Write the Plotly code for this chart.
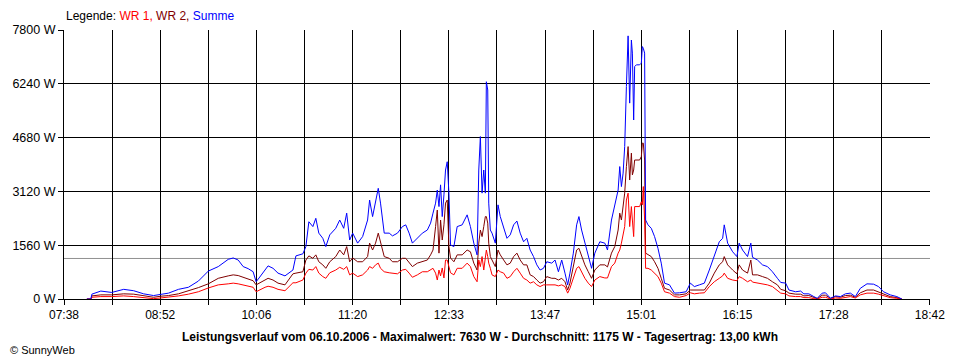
import plotly.graph_objects as go
import pandas as pd

# ---- data ----
times = [
    "07:55:33", "07:58:37", "07:59:22", "08:06:14", "08:14:38", "08:23:47", "08:31:26", "08:39:04", "08:46:41", "08:52:02",
    "08:58:08", "09:05:46", "09:13:24", "09:21:02", "09:28:40", "09:36:18", "09:43:56", "09:47:45", "09:51:34", "09:55:23",
    "09:59:12", "10:03:01", "10:05:18", "10:07:35", "10:12:10", "10:14:28", "10:18:17", "10:22:05", "10:27:26", "10:33:32",
    "10:35:50", "10:41:10", "10:43:28", "10:45:45", "10:48:49", "10:51:05", "10:53:23", "10:56:26", "10:58:44", "11:01:47",
    "11:06:22", "11:09:25", "11:12:28", "11:14:45", "11:17:02", "11:19:20", "11:23:09", "11:26:58", "11:30:47", "11:32:19",
    "11:34:36", "11:36:53", "11:38:57", "11:40:42", "11:43:32", "11:47:21", "11:49:52", "11:53:41", "11:57:29", "12:00:01",
    "12:02:37", "12:05:08", "12:08:56", "12:12:46", "12:16:35", "12:19:05", "12:20:56", "12:22:55", "12:24:13", "12:25:31",
    "12:26:44", "12:28:01", "12:29:19", "12:30:32", "12:31:50", "12:33:08", "12:34:22", "12:36:57", "12:39:28", "12:43:17",
    "12:47:06", "12:49:37", "12:52:13", "12:54:44", "12:56:02", "12:57:15", "12:58:33", "12:59:51", "13:01:04", "13:01:50",
    "13:02:54", "13:03:40", "13:04:53", "13:06:11", "13:08:42", "13:10:46", "13:12:31", "13:15:07", "13:17:38", "13:20:09",
    "13:22:44", "13:25:16", "13:27:47", "13:30:23", "13:32:54", "13:35:25", "13:38:01", "13:40:32", "13:43:03", "13:45:38",
    "13:48:10", "13:51:59", "13:54:30", "13:57:05", "13:59:37", "14:02:08", "14:04:11", "14:05:56", "14:08:32", "14:11:04",
    "14:12:49", "14:14:52", "14:17:23", "14:19:59", "14:22:31", "14:25:01", "14:28:50", "14:32:40", "14:34:43", "14:37:46",
    "14:40:17", "14:42:53", "14:44:07", "14:45:24", "14:46:42", "14:47:55", "14:49:13", "14:50:31", "14:51:44", "14:53:02",
    "14:53:48", "14:54:47", "14:55:33", "14:56:51", "14:59:22", "15:00:40", "15:01:26", "15:02:11", "15:03:11", "15:03:57",
    "15:05:47", "15:08:18", "15:10:49", "15:13:25", "15:15:56", "15:18:27", "15:22:16", "15:26:05", "15:29:54", "15:35:01",
    "15:38:17", "15:41:20", "15:45:10", "15:48:59", "15:52:47", "15:56:37", "16:00:26", "16:03:01", "16:04:14", "16:06:50",
    "16:10:40", "16:13:56", "16:15:41", "16:18:17", "16:22:06", "16:24:37", "16:25:55", "16:29:44", "16:33:33", "16:37:22",
    "16:41:11", "16:45:00", "16:47:31", "16:51:20", "16:53:51", "16:58:58", "17:02:47", "17:05:18", "17:09:07", "17:12:56",
    "17:15:32", "17:19:21", "17:21:52", "17:25:41", "17:29:30", "17:33:19", "17:37:08", "17:40:56", "17:44:46", "17:48:35",
    "17:53:41", "17:58:44", "18:02:32", "18:06:22", "18:11:28", "18:16:35", "18:20:24",
]

summe = [
    0, 0, 140, 230, 190, 280, 240, 150, 100, 140,
    170, 280, 340, 520, 810, 940, 1150, 1190, 1130, 940,
    880, 790, 500, 610, 840, 960, 890, 750, 670, 840,
    1250, 1310, 1520, 2240, 2100, 2340, 1910, 1760, 1520, 1860,
    2050, 2290, 2050, 2490, 1710, 1910, 1620, 1810, 2290, 2870,
    2390, 2870, 3210, 2780, 1910, 1910, 1830, 1910, 2100, 2150,
    1910, 1620, 1760, 1910, 2000, 2200, 2490, 2780, 3160, 2680,
    3310, 2390, 3020, 3740, 3980, 3070, 1570, 1520, 2100, 2150,
    2440, 2100, 1620, 1280, 3740, 4710, 3070, 3740, 3070, 6300,
    6060, 2780, 2000, 1910, 1620, 2730, 2390, 2050, 1760, 1860,
    2150, 2260, 1910, 1660, 1760, 1420, 1230, 990, 840, 890,
    1080, 1040, 1130, 790, 1130, 750, 410, 750, 1330, 2150,
    2390, 2000, 1660, 1230, 890, 1330, 1660, 1620, 1420, 2290,
    2680, 3160, 3840, 3260, 3650, 4420, 6160, 7630, 5680, 7510,
    7130, 5190, 6740, 6790, 6790, 6840, 7320, 7270, 7130, 2290,
    2150, 2050, 1810, 1470, 1040, 460, 410, 170, 180, 210,
    460, 360, 410, 460, 840, 1230, 1660, 1760, 2150, 1620,
    1370, 1230, 1620, 1420, 1230, 1620, 1210, 1130, 990, 940,
    790, 600, 480, 460, 260, 210, 230, 150, 150, 70,
    20, 170, 180, 20, 90, 70, 150, 170, 70, 310,
    440, 430, 360, 210, 120, 70, 0,
]

wr2 = [
    0, 0, 90, 120, 120, 150, 140, 100, 50, 80,
    100, 150, 230, 330, 440, 600, 670, 700, 680, 630,
    590, 530, 410, 460, 550, 600, 550, 460, 410, 730,
    750, 790, 1130, 1250, 1180, 1280, 1080, 990, 890, 1080,
    1230, 1420, 1280, 1520, 1080, 1190, 1080, 1080, 1230, 1620,
    1420, 1620, 1910, 1620, 1230, 1180, 1080, 1080, 1180, 1180,
    1040, 940, 1040, 1080, 1130, 1280, 1420, 2100, 2580, 1330,
    2290, 1710, 2150, 2780, 2870, 1520, 1190, 1080, 1280, 1280,
    1420, 1370, 1040, 840, 1620, 2000, 1810, 2100, 2390, 2390,
    2200, 1620, 1230, 1130, 940, 1420, 1280, 1130, 990, 1040,
    1230, 1330, 1130, 990, 990, 700, 650, 550, 460, 500,
    650, 600, 600, 550, 600, 500, 260, 460, 940, 1420,
    1470, 1230, 990, 790, 600, 840, 990, 990, 930, 1330,
    1520, 2000, 2490, 2290, 2680, 3070, 3840, 4420, 3450, 4230,
    3600, 3740, 4030, 4030, 4030, 4130, 4520, 4520, 4030, 1330,
    1280, 1230, 1080, 890, 600, 310, 260, 120, 120, 150,
    260, 260, 260, 260, 460, 750, 990, 1080, 1230, 990,
    840, 730, 990, 840, 750, 1130, 700, 700, 650, 600,
    500, 410, 280, 240, 170, 140, 140, 90, 100, 40,
    10, 110, 110, 20, 70, 50, 100, 110, 50, 180,
    260, 260, 210, 140, 70, 40, 0,
]

wr1 = [
    0, 0, 50, 70, 70, 90, 70, 40, 10, 30,
    50, 90, 140, 210, 320, 410, 440, 460, 440, 410,
    380, 340, 210, 260, 340, 370, 340, 280, 240, 470,
    470, 550, 750, 860, 840, 940, 750, 650, 600, 760,
    840, 920, 860, 940, 700, 750, 650, 700, 840, 940,
    890, 990, 1040, 890, 790, 760, 750, 730, 840, 860,
    750, 630, 700, 790, 790, 840, 890, 750, 550, 840,
    670, 900, 610, 1130, 1130, 940, 760, 700, 890, 890,
    1040, 940, 650, 500, 1130, 940, 1230, 840, 1130, 1420,
    1230, 1040, 890, 700, 650, 840, 790, 750, 600, 650,
    790, 890, 750, 600, 550, 460, 500, 410, 360, 410,
    410, 410, 410, 380, 410, 360, 170, 310, 600, 890,
    940, 790, 600, 460, 360, 550, 650, 610, 610, 940,
    1040, 1330, 1420, 1620, 1910, 2100, 2870, 3070, 2100, 2680,
    2290, 1810, 2680, 2680, 2680, 2820, 2730, 3260, 2290, 890,
    890, 840, 750, 650, 460, 210, 170, 70, 50, 100,
    180, 150, 170, 180, 360, 500, 600, 670, 750, 600,
    550, 530, 650, 600, 500, 550, 490, 470, 440, 410,
    360, 260, 170, 150, 90, 70, 70, 40, 40, 10,
    0, 50, 50, 0, 30, 20, 50, 70, 30, 120,
    170, 170, 140, 90, 40, 20, 0,
]

x_labels = ["07:38", "08:52", "10:06", "11:20", "12:33", "13:47", "15:01", "16:15", "17:28", "18:42"]
y_ticks = [0, 1560, 3120, 4680, 6240, 7800]
durchschnitt = 1175
day = "2006-10-06 "

# ---- figure ----
x = pd.to_datetime([day + t for t in times])
start = pd.Timestamp(day + x_labels[0])
end = pd.Timestamp(day + x_labels[-1])
n_int = 2 * (len(x_labels) - 1)
step = (end - start) / n_int
tickvals = [start + k * step for k in range(n_int + 1)]
ticktext = [x_labels[k // 2] if k % 2 == 0 else "" for k in range(n_int + 1)]

FONT = "Liberation Sans, Arial, sans-serif"

fig = go.Figure()
fig.add_trace(go.Scatter(x=x, y=wr2, mode="lines", name="WR 2",
                         line=dict(color="#800000", width=1)))
fig.add_trace(go.Scatter(x=x, y=wr1, mode="lines", name="WR 1",
                         line=dict(color="#FF0000", width=1)))
fig.add_trace(go.Scatter(x=x, y=summe, mode="lines", name="Summe",
                         line=dict(color="#0000FF", width=1)))

fig.add_shape(type="line", xref="paper", x0=0, x1=1, yref="y",
              y0=durchschnitt, y1=durchschnitt,
              line=dict(color="#909090", width=1), layer="below")

fig.update_layout(
    width=960, height=360,
    margin=dict(l=60, r=30, t=30, b=61),
    paper_bgcolor="white", plot_bgcolor="white",
    showlegend=False,
    font=dict(family=FONT, size=12, color="black"),
    xaxis=dict(
        type="date", range=[start, end],
        tickmode="array", tickvals=tickvals, ticktext=ticktext,
        showgrid=True, gridcolor="black", gridwidth=1,
        ticks="outside", ticklen=5, tickcolor="black", tickwidth=1,
        showline=True, linecolor="black", linewidth=1,
        zeroline=False, tickangle=0,
        tickfont=dict(family=FONT, size=12, color="black"),
    ),
    yaxis=dict(
        range=[0, 7800], tickmode="array", tickvals=y_ticks,
        ticktext=[f"{v} W" for v in y_ticks],
        showgrid=True, gridcolor="black", gridwidth=1,
        ticks="outside", ticklen=5, tickcolor="black", tickwidth=1,
        showline=True, linecolor="black", linewidth=1,
        zeroline=False,
        tickfont=dict(family=FONT, size=12.5, color="black"),
    ),
)

fig.add_annotation(
    xref="paper", yref="paper", x=0.0, y=1.052, xanchor="left", yanchor="middle",
    showarrow=False, font=dict(family=FONT, size=12, color="black"),
    text=('Legende: <span style="color:#FF0000">WR 1, </span>'
          '<span style="color:#800000">WR 2, </span>'
          '<span style="color:#0000FF">Summe</span>'),
)
fig.add_annotation(
    xref="paper", yref="paper", x=0.48, y=-0.141, xanchor="center", yanchor="middle",
    showarrow=False, font=dict(family=FONT, size=12, color="black"),
    text=("<b>Leistungsverlauf vom 06.10.2006 - Maximalwert: 7630 W - "
          "Durchschnitt: 1175 W - Tagesertrag: 13,00 kWh</b>"),
)
fig.add_annotation(
    xref="paper", yref="paper", x=-0.065, y=-0.19, xanchor="left", yanchor="middle",
    showarrow=False, font=dict(family=FONT, size=11, color="black"),
    text="© SunnyWeb",
)

fig.write_html("out.html", config={"displayModeBar": False},
               post_script="document.body.style.margin='0px';")
